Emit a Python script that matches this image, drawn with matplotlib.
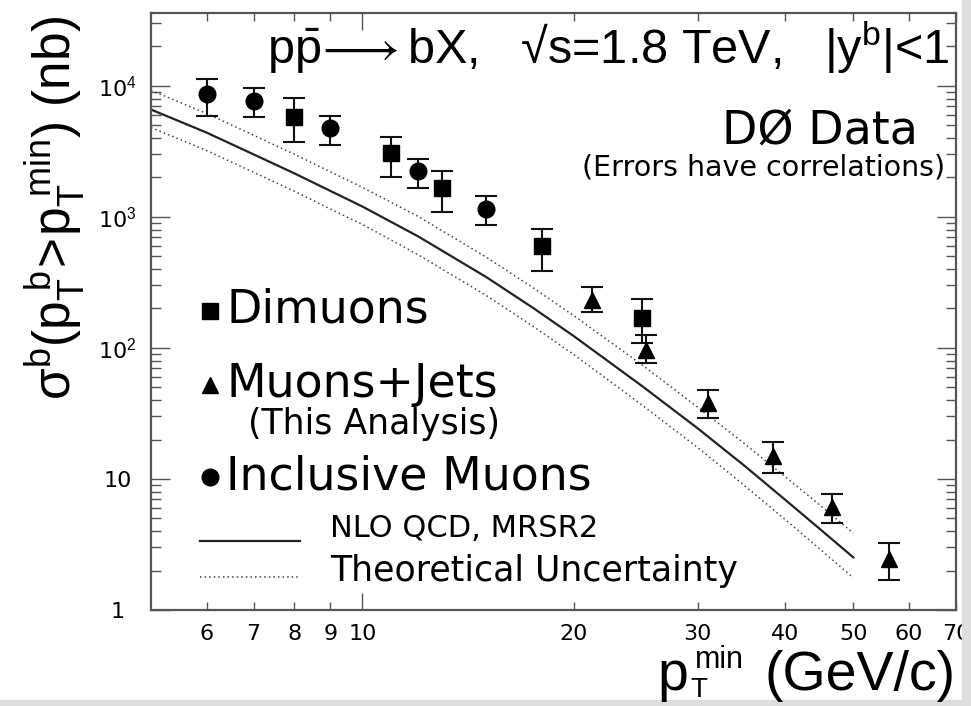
import matplotlib
matplotlib.use('Agg')
import matplotlib.pyplot as plt
from matplotlib.ticker import FixedLocator, FixedFormatter, LogLocator, NullFormatter
from matplotlib.patches import Rectangle

plt.rcParams['mathtext.fontset'] = 'custom'
plt.rcParams['mathtext.rm'] = 'Liberation Sans'
plt.rcParams['mathtext.it'] = 'Liberation Sans:italic'
plt.rcParams['mathtext.bf'] = 'Liberation Sans:bold'

# measured points (nb), with lower / upper ends of the error bars
dimu_pt = [8, 11, 13, 18, 25]
dimu_sig = [5830, 3060, 1675, 604, 169]
dimu_lo = [3720, 2030, 1098, 389, 110]
dimu_hi = [8140, 4060, 2260, 809, 237]

mujet_pt = [21.2, 25.3, 31, 38.4, 46.6, 56.2]
mujet_sig = [232, 96.6, 37.8, 15.0, 6.08, 2.44]
mujet_lo = [189, 77, 29.4, 11.2, 4.59, 1.69]
mujet_hi = [294, 126, 47.8, 19.1, 7.64, 3.23]

incl_pt = [6, 7, 9, 12, 15]
incl_sig = [8650, 7680, 4750, 2245, 1145]
incl_lo = [5930, 5830, 3550, 1656, 864]
incl_hi = [11300, 9600, 5930, 2790, 1446]

# NLO QCD prediction and its band
theory_pt = [5, 6, 7, 8, 9, 10, 12, 15, 17.5, 20, 25, 30, 35, 40, 45, 50]
nlo = [6600, 4400, 3000, 2150, 1580, 1200, 711, 348, 202, 123, 51.3, 24.4, 12.6, 6.93, 4.07, 2.52]
nlo_up = [9240, 6160, 4200, 3010, 2210, 1680, 1010, 494, 288, 176, 74.4, 35.4, 18.6, 10.4, 6.2, 3.85]
nlo_dn = [4810, 3210, 2190, 1570, 1150, 876, 515, 252, 146, 89, 36.7, 17.4, 8.9, 4.9, 2.86, 1.76]

xticks_major = [10]
xticks_minor = [6, 7, 8, 9, 20, 30, 40, 50, 60, 70]
yticks = [1, 10, 100, 1000, 10000]
ylabels = ['1', '10', '10$^{\\mathrm{2}}$', '10$^{\\mathrm{3}}$', '10$^{\\mathrm{4}}$']


def errs(val, lo, hi):
    return [[v - l for v, l in zip(val, lo)], [h - v for v, h in zip(val, hi)]]


fig = plt.figure(figsize=(9.71, 7.06), dpi=100)
ax = fig.add_axes([0.1555, 0.136, 0.829, 0.8456])
ax.set_xscale('log')
ax.set_yscale('log')
ax.set_xlim(5, 70)
ax.set_ylim(1, 3.6e4)

# theory curves
ax.plot(theory_pt, nlo, color='#222222', lw=1.6)
ax.plot(theory_pt, nlo_up, color='#444444', lw=1.1, ls=(0, (1, 2)))
ax.plot(theory_pt, nlo_dn, color='#444444', lw=1.1, ls=(0, (1, 2)))

ekw = dict(color='black', ecolor='#111111', elinewidth=1.5, capsize=8, capthick=1.5, ls='none')
ax.errorbar(dimu_pt, dimu_sig, yerr=errs(dimu_sig, dimu_lo, dimu_hi), marker='s', ms=11, **ekw)
ax.errorbar(mujet_pt, mujet_sig, yerr=errs(mujet_sig, mujet_lo, mujet_hi), marker='^', ms=12, **ekw)
ax.errorbar(incl_pt, incl_sig, yerr=errs(incl_sig, incl_lo, incl_hi), marker='o', ms=12, **ekw)

# ticks
ax.xaxis.set_major_locator(FixedLocator(xticks_major))
ax.xaxis.set_major_formatter(FixedFormatter([str(t) for t in xticks_major]))
ax.xaxis.set_minor_locator(FixedLocator(xticks_minor))
ax.xaxis.set_minor_formatter(FixedFormatter([str(t) for t in xticks_minor]))
ax.yaxis.set_major_locator(FixedLocator(yticks))
ax.yaxis.set_major_formatter(FixedFormatter(ylabels))
ax.yaxis.set_minor_locator(LogLocator(base=10, subs=range(2, 10)))
ax.yaxis.set_minor_formatter(NullFormatter())

ax.tick_params(which='both', direction='in', top=True, right=True, color='#555555', width=1.0)
ax.tick_params(axis='x', which='major', length=12, pad=10, labelsize=16)
ax.tick_params(axis='x', which='minor', length=6, pad=10, labelsize=16)
ax.tick_params(axis='y', which='major', length=14, pad=24, labelsize=16)
ax.tick_params(axis='y', which='minor', length=7)
plt.setp(ax.get_yticklabels(), ha='center')
for sp in ax.spines.values():
    sp.set_color('#555555')
    sp.set_linewidth(1.6)

# axis titles
fig.text(0.056, 0.705, r'$\mathrm{\sigma^{b}(p_{T}^{\ b}\!>\!p_{T}^{\ min})}$ (nb)',
         rotation=90, ha='center', va='center', fontsize=37, family='Liberation Sans')
# x title built from pieces so the superscript stays clear of the tick labels
fig.text(0.6766, 0.0227, 'p', ha='left', va='baseline', fontsize=40, family='Liberation Sans')
fig.text(0.7106, 0.0127, 'T', ha='left', va='baseline', fontsize=20, family='Liberation Sans')
fig.text(0.7158, 0.0538, 'min', ha='left', va='baseline', fontsize=22, family='Liberation Sans')
fig.text(0.984, 0.0227, '(GeV/c)', ha='right', va='baseline', fontsize=40, family='Liberation Sans')

# headline and experiment label
ax.text(0.9925, 0.9414, r'$\mathrm{p\bar{p}}\!\longrightarrow$bX,   √s=1.8 TeV,   |y$^{\mathrm{b}}$|<1',
        transform=ax.transAxes, ha='right', va='center', fontsize=35, family='Liberation Sans')
ax.text(0.9528, 0.8023, 'DØ Data', transform=ax.transAxes, ha='right', va='center', fontsize=33)
ax.text(0.9863, 0.742, '(Errors have correlations)', transform=ax.transAxes, ha='right',
        va='center', fontsize=20.5)

# hand-drawn legend
lx = 0.0733
tx = 0.0932
ax.plot([lx], [0.5008], marker='s', ms=11, color='black', transform=ax.transAxes)
ax.text(tx, 0.5025, 'Dimuons', transform=ax.transAxes, va='center', fontsize=33)
ax.plot([lx], [0.3769], marker='^', ms=12, color='black', transform=ax.transAxes)
ax.text(tx, 0.3769, 'Muons+Jets', transform=ax.transAxes, va='center', fontsize=33)
ax.text(0.1205, 0.312, '(This Analysis)', transform=ax.transAxes, va='center', fontsize=25)
ax.plot([lx], [0.2228], marker='o', ms=12, color='black', transform=ax.transAxes)
ax.text(tx, 0.2228, 'Inclusive Muons', transform=ax.transAxes, va='center', fontsize=33)
ax.plot([0.0609, 0.1851], [0.1156, 0.1156], color='#222222', lw=1.6, transform=ax.transAxes)
ax.text(0.2224, 0.1357, 'NLO QCD, MRSR2', transform=ax.transAxes, va='center', fontsize=22)
ax.plot([0.0609, 0.1851], [0.0553, 0.0553], color='#444444', lw=1.1, ls=(0, (1, 2)),
        transform=ax.transAxes)
ax.text(0.2224, 0.0653, 'Theoretical Uncertainty', transform=ax.transAxes, va='center', fontsize=25)

# light grey frame of the scanned figure
fig.patches.append(Rectangle((0.991, 0), 0.009, 1, transform=fig.transFigure, color='#dddddd', zorder=0))
fig.patches.append(Rectangle((0, 0), 1, 0.008, transform=fig.transFigure, color='#dddddd', zorder=0))

fig.savefig('out.png', dpi=100)
